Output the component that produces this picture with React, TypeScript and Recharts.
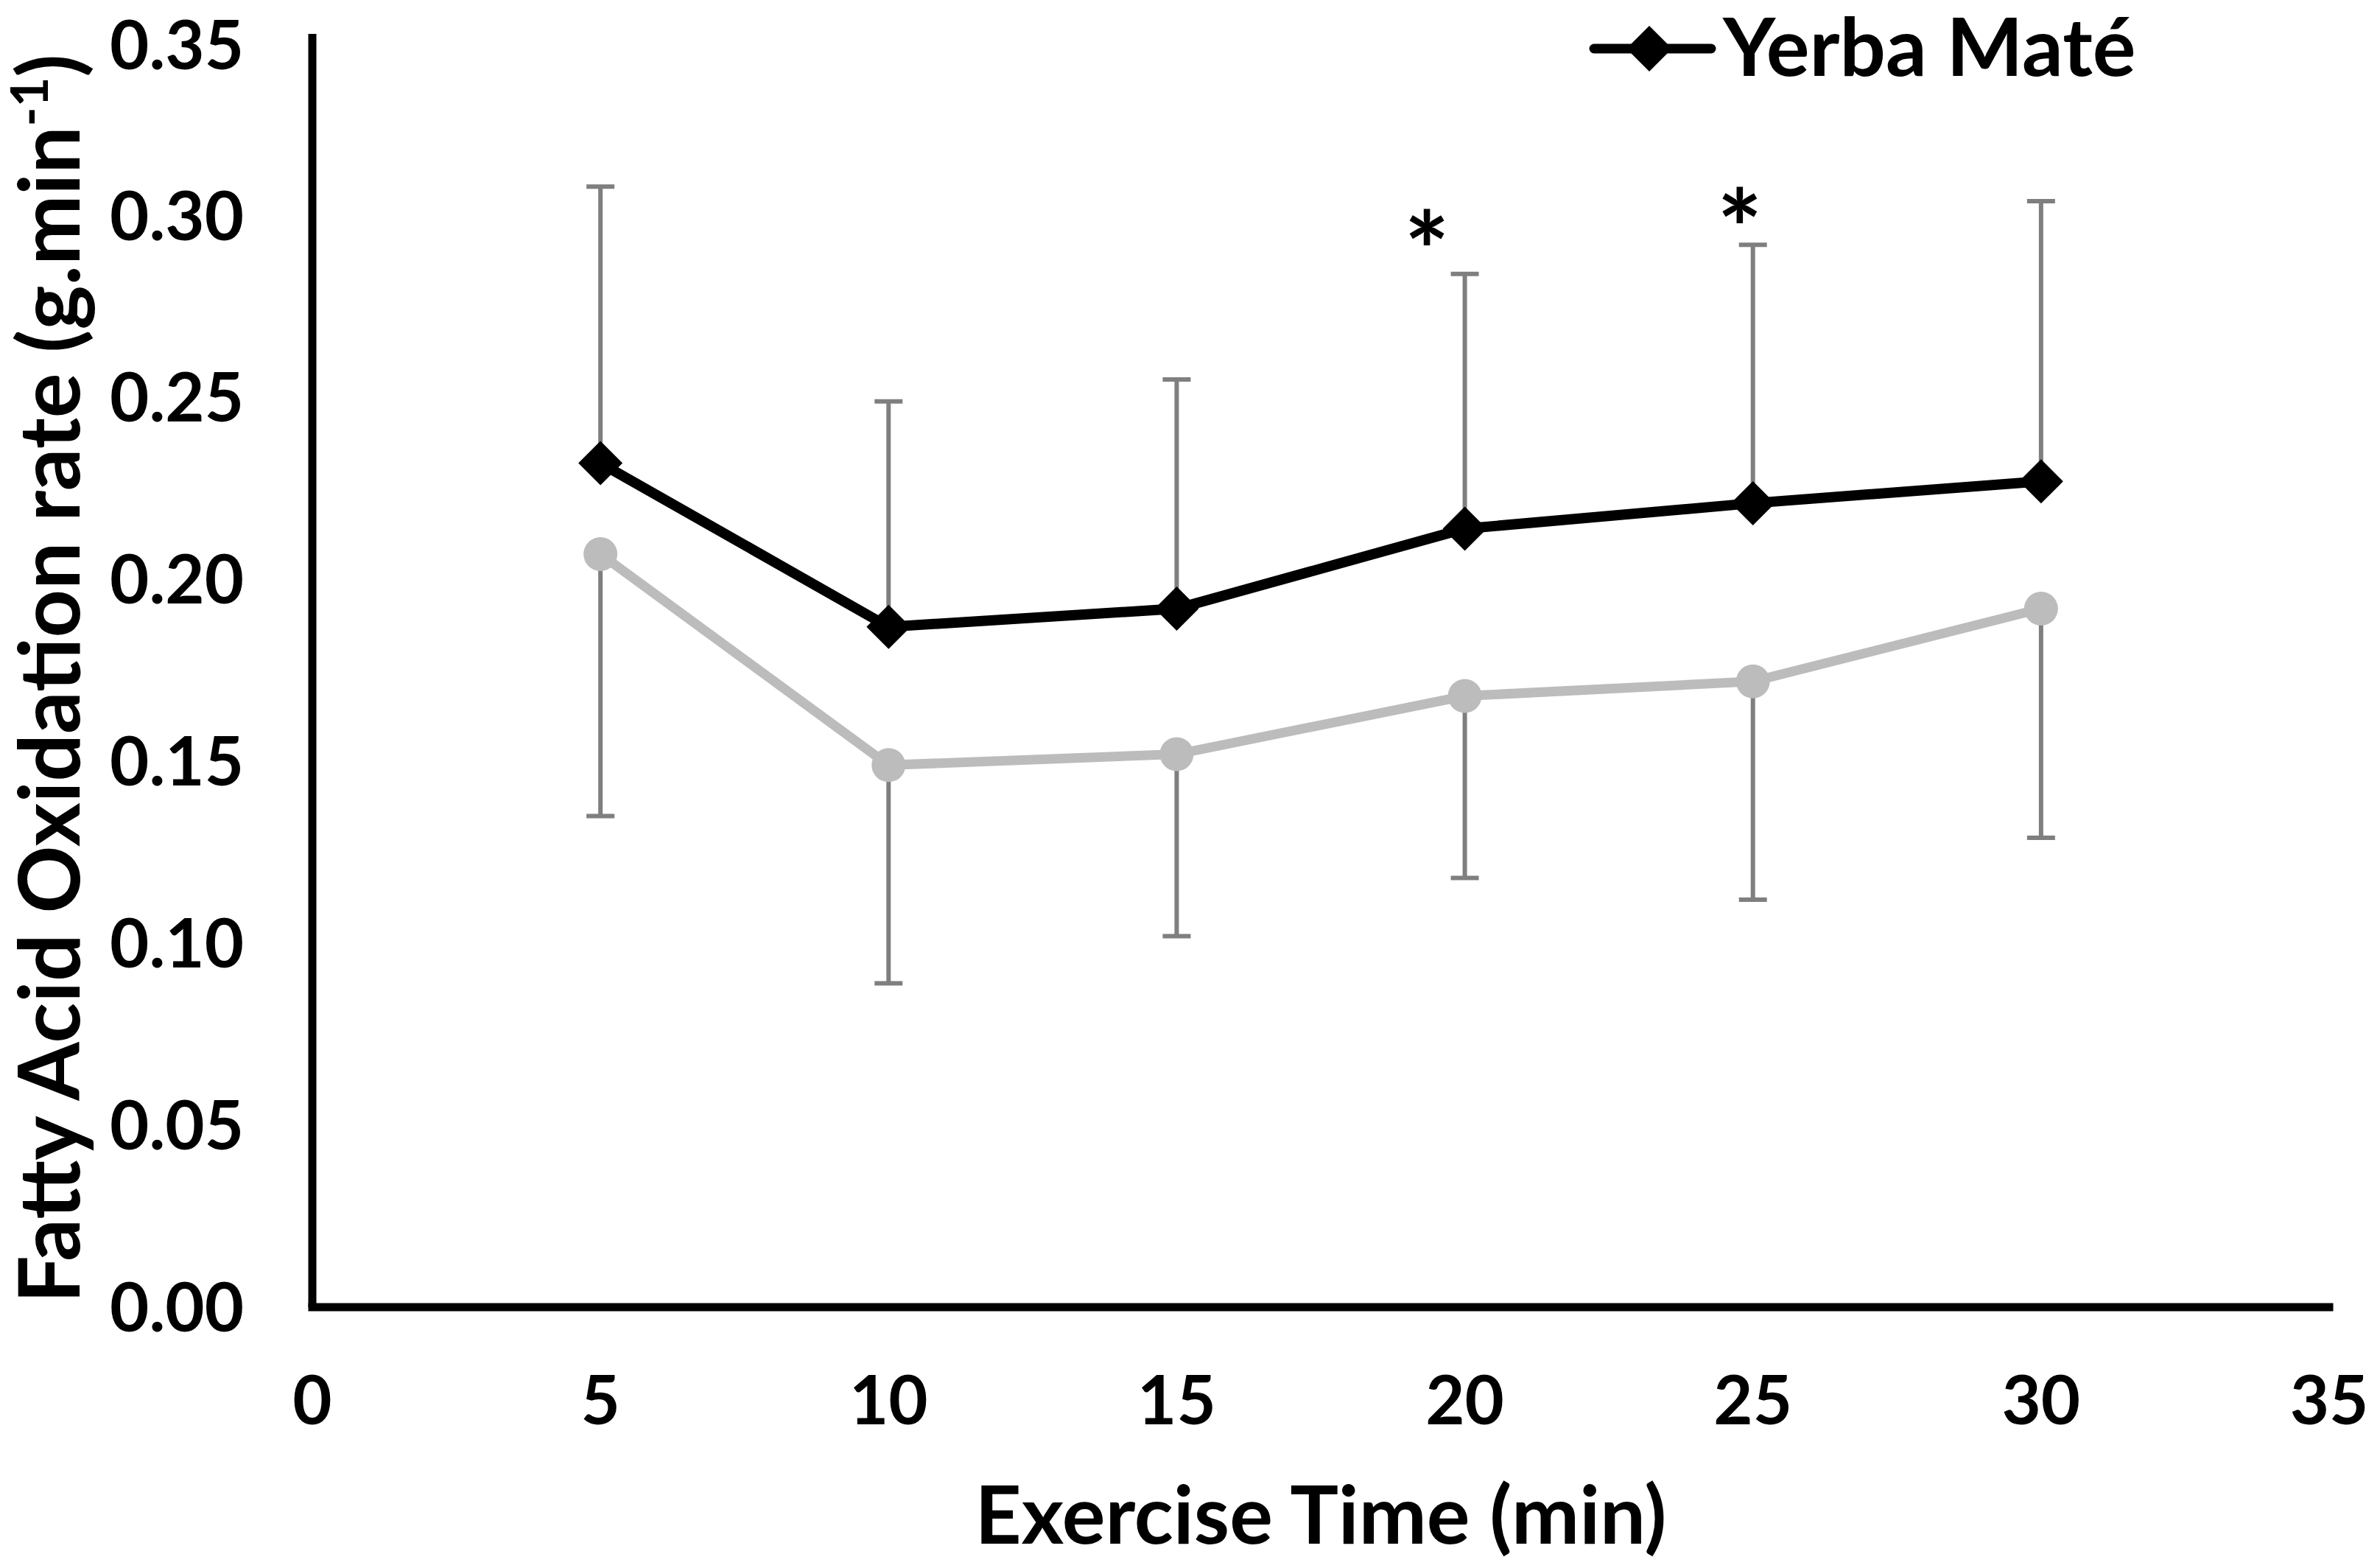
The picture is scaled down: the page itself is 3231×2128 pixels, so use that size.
import React from 'react';
import { ComposedChart, Line, XAxis, YAxis, ErrorBar, Legend, ReferenceDot } from 'recharts';

// exercise time (min)
const minutes = [5, 10, 15, 20, 25, 30];

// fatty acid oxidation rate (g.min-1), mean and SD
const yerbaMate = [0.232, 0.187, 0.192, 0.214, 0.221, 0.227];
const yerbaMateSD = [0.076, 0.062, 0.063, 0.070, 0.071, 0.077];
const placebo = [0.207, 0.149, 0.152, 0.168, 0.172, 0.192];
const placeboSD = [0.072, 0.060, 0.050, 0.050, 0.060, 0.063];

const xTicks = [0, 5, 10, 15, 20, 25, 30, 35];
const yTicks = [0, 0.05, 0.1, 0.15, 0.2, 0.25, 0.3, 0.35];

// significance asterisks (x in min, y in g.min-1)
const sigMarks = [
  { x: 19.34, y: 0.296 },
  { x: 24.77, y: 0.302 },
];

const data = minutes.map((m, i) => ({
  minute: m,
  yerba: yerbaMate[i],
  yerbaErr: [0, yerbaMateSD[i]],
  placebo: placebo[i],
  placeboErr: [placeboSD[i], 0],
}));

const FONT = 'Lato, "Open Sans", sans-serif';

const Diamond = (props: any) => {
  const { cx, cy, index } = props;
  if (cx == null || cy == null) return null;
  const h = 30;
  return (
    <polygon
      key={`dia-${index}`}
      points={`${cx},${cy - h} ${cx + h},${cy} ${cx},${cy + h} ${cx - h},${cy}`}
      fill="#000"
    />
  );
};

const renderLegend = (props: any) => {
  const items = (props.payload || []).filter((p: any) => p.type !== 'none');
  return (
    <svg width={960} height={150} style={{ overflow: 'visible', display: 'block' }}>
      {items.map((item: any, i: number) => (
        <g key={item.value} transform={`translate(0, ${i * 120})`}>
          <line x1={7} y1={58} x2={166} y2={58} stroke="#000" strokeWidth={13} strokeLinecap="round" />
          <polygon points="82,27 113,58 82,89 51,58" fill="#000" />
          <text x={182} y={95} fontFamily={FONT} fontWeight={700} fontSize={110} fill="#000">
            {item.value}
          </text>
        </g>
      ))}
    </svg>
  );
};

const renderYTitle = (props: any) => {
  const vb = props.viewBox;
  const cy = vb.y + vb.height / 2 + 11;
  const x = 100;
  return (
    <text
      x={x}
      y={cy}
      transform={`rotate(-90 ${x} ${cy})`}
      textAnchor="middle"
      fontFamily={FONT}
      fontWeight={700}
      fontSize={114}
      fill="#000"
    >
      Fatty Acid Oxidation rate (g.min
      <tspan dy={-43} fontSize={70}>-1</tspan>
      <tspan dy={43}>)</tspan>
    </text>
  );
};

const renderXTitle = (props: any) => {
  const vb = props.viewBox;
  return (
    <text
      x={vb.x + vb.width / 2}
      y={vb.y + 321}
      textAnchor="middle"
      fontFamily={FONT}
      fontWeight={700}
      fontSize={110}
      fill="#000"
    >
      Exercise Time (min)
    </text>
  );
};

const renderStar = (props: any) => {
  const vb = props.viewBox;
  const fs = 145;
  return (
    <text x={vb.x} y={vb.y + fs * 0.56} textAnchor="middle" fontFamily={FONT} fontWeight={700} fontSize={fs} fill="#000">
      *
    </text>
  );
};

const tickStyle = { fill: '#000', fontSize: 92, fontWeight: 700, fontFamily: FONT };

export default function App() {
  return (
    <div style={{ width: 3215, height: 2118, background: '#fff' }}>
      <ComposedChart width={3215} height={2118} data={data} margin={{ top: 38, right: 61, left: 0, bottom: 0 }}>
        <XAxis
          dataKey="minute"
          type="number"
          domain={[0, 35]}
          ticks={xTicks}
          height={352}
          tickLine={false}
          tickSize={0}
          tickMargin={94}
          axisLine={{ stroke: '#000', strokeWidth: 11, strokeLinecap: 'square' }}
          tick={tickStyle}
          label={renderXTitle}
        />
        <YAxis
          type="number"
          domain={[0, 0.35]}
          ticks={yTicks}
          width={416}
          tickLine={false}
          tickSize={0}
          tickMargin={93}
          tickFormatter={(v: number) => v.toFixed(2)}
          axisLine={{ stroke: '#000', strokeWidth: 11 }}
          tick={tickStyle}
          label={renderYTitle}
        />
        <Legend
          layout="vertical"
          align="center"
          verticalAlign="middle"
          content={renderLegend}
          wrapperStyle={{ left: 2149, top: 0, width: 960, height: 150 }}
        />
        <Line
          dataKey="placebo"
          name="Placebo"
          legendType="none"
          stroke="#bcbcbc"
          strokeWidth={13}
          dot={{ r: 23, fill: '#bcbcbc', stroke: 'none' }}
          activeDot={false}
          isAnimationActive={false}
        >
          <ErrorBar dataKey="placeboErr" direction="y" stroke="#7f7f7f" strokeWidth={6} width={19} />
        </Line>
        <Line
          dataKey="yerba"
          name="Yerba Maté"
          stroke="#000"
          strokeWidth={14}
          dot={Diamond}
          activeDot={false}
          isAnimationActive={false}
        >
          <ErrorBar dataKey="yerbaErr" direction="y" stroke="#7f7f7f" strokeWidth={6} width={19} />
        </Line>
        {sigMarks.map((s, i) => (
          <ReferenceDot key={i} x={s.x} y={s.y} r={0} fill="none" stroke="none" label={renderStar} />
        ))}
      </ComposedChart>
    </div>
  );
}
